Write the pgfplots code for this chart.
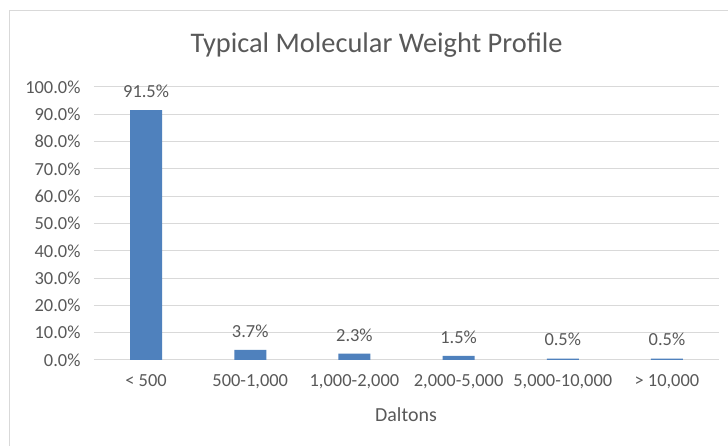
\documentclass[border=0pt]{standalone}
\usepackage{pgfplots}
\pgfplotsset{compat=1.18}
\usepackage{fontspec}
\setmainfont{Carlito}
\definecolor{barblue}{RGB}{79,129,189}
\definecolor{txtgray}{RGB}{89,89,89}
\definecolor{gridgray}{RGB}{217,217,217}
\definecolor{framegray}{RGB}{217,217,217}
\begin{document}
\begin{tikzpicture}[x=1bp,y=1bp]
\useasboundingbox (0,0) rectangle (728,446);
\fill[white] (0,0) rectangle (728,446);
\draw[framegray, line width=1bp] (9.5,0) -- (9.5,435.5) -- (728,435.5);
\begin{axis}[
  at={(146.08bp,86bp)}, anchor=origin,
  scale only axis, width=625bp, height=273bp,
  xmin=-0.5, xmax=5.5, ymin=0, ymax=100,
  axis line style={draw=none},
  ymajorgrids, grid style={gridgray, line width=1bp},
  major tick length=0pt,
  ytick={0,10,...,100},
  yticklabels={0.0\%,10.0\%,20.0\%,30.0\%,40.0\%,50.0\%,60.0\%,70.0\%,80.0\%,90.0\%,100.0\%},
  xtick={0,1,2,3,4,5},
  xticklabels={{< 500},{500-1,000},{1,000-2,000},{2,000-5,000},{5,000-10,000},{> 10,000}},
  tick label style={font=\fontsize{18.5}{22}\selectfont, text=txtgray},
  yticklabel style={xshift=-10bp},
  xticklabel style={yshift=-11bp},
  ybar, bar width=32bp,
  /pgf/number format/assume math mode=true,
  nodes near coords={\pgfmathprintnumber[fixed,fixed zerofill,precision=1]{\pgfplotspointmeta}\%},
  nodes near coords style={font=\fontsize{18.5}{22}\selectfont, text=txtgray, yshift=9bp},
  clip=false,
]
\addplot[fill=barblue, draw=none] coordinates {(0,91.5) (1,3.7) (2,2.3) (3,1.5) (4,0.5) (5,0.5)};
\end{axis}
\node[text=txtgray, font=\fontsize{28.5}{34}\selectfont] at (376.5,401) {Typical Molecular Weight Profile};
\node[text=txtgray, font=\fontsize{20}{24}\selectfont] at (406,31) {Daltons};
\end{tikzpicture}
\end{document}
